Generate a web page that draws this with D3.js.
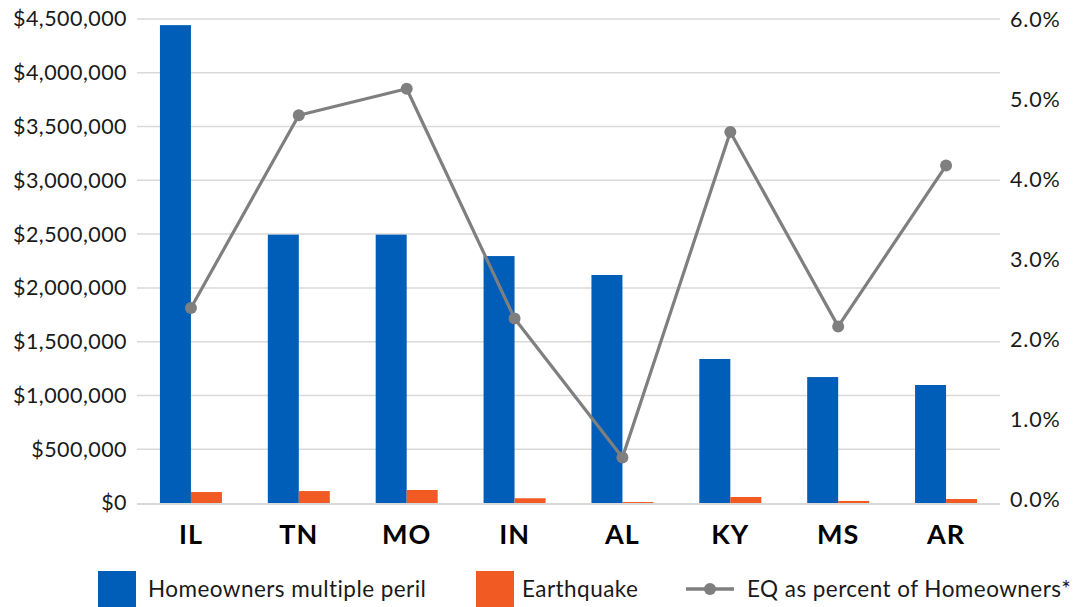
<!DOCTYPE html>
<html>
<head>
<meta charset="utf-8">
<script src="https://cdn.jsdelivr.net/npm/d3@7"></script>
<style>
  html, body { margin: 0; padding: 0; background: #fff; }
  svg { display: block; font-family: Lato, "Open Sans", sans-serif; }
</style>
</head>
<body>
<svg id="chart" width="1085" height="607"></svg>
<script>
// ---- data ----
const categories = ["IL", "TN", "MO", "IN", "AL", "KY", "MS", "AR"];
const homeowners = [4443000, 2495000, 2495000, 2296000, 2120000, 1339000, 1171000, 1097000];
const earthquake = [102000, 111000, 121000, 44000, 9000, 56000, 19000, 37000];
const eqPercent = [2.40, 4.81, 5.14, 2.27, 0.53, 4.60, 2.17, 4.18];
const leftTicks = [0, 500000, 1000000, 1500000, 2000000, 2500000, 3000000, 3500000, 4000000, 4500000];
const rightTicks = [0, 1, 2, 3, 4, 5, 6];
const seriesNames = ["Homeowners multiple peril", "Earthquake", "EQ as percent of Homeowners*"];

(function () {
// ---- layout ----
const svg = d3.select("#chart");
const mLeft = 137, mRight = 1000, mTop = 19, mBottom = 503;
const blue = "#005eb8", orange = "#f15a22", grey = "#7f7f7f", gridC = "#d9d9d9";

const x = d3.scaleBand().domain(categories).range([mLeft, mRight]).paddingInner(0).paddingOuter(0);
const x1 = d3.scaleBand().domain(["h", "e"]).range([0, x.bandwidth()]).paddingInner(0).paddingOuter(0.74);
const y = d3.scaleLinear().domain([0, 4500000]).range([mBottom, mTop]);
const y2 = d3.scaleLinear().domain([0, 6]).range([mBottom - 3, mTop + 1]);

// gridlines
svg.append("g").selectAll("line").data(leftTicks).join("line")
  .attr("x1", mLeft).attr("x2", mRight)
  .attr("y1", d => d === 0 ? y(d) + 1 : y(d)).attr("y2", d => d === 0 ? y(d) + 1 : y(d))
  .attr("stroke", gridC).attr("stroke-width", d => d === 0 ? 2 : 1.5);

// left axis
const fmt = d3.format("$,");
const yAxis = d3.axisLeft(y).tickValues(leftTicks).tickSize(0).tickPadding(10).tickFormat(d => fmt(d));
const ga = svg.append("g").attr("transform", `translate(${mLeft},0)`).call(yAxis);
ga.select(".domain").remove();
ga.selectAll("text").attr("font-size", 21.5).attr("letter-spacing", 0.45).attr("fill", "#1a1a1a").attr("font-family", "Lato, sans-serif");

// right axis
const y2Axis = d3.axisRight(y2).tickValues(rightTicks).tickSize(0).tickPadding(10).tickFormat(d => d.toFixed(1) + "%");
const gr = svg.append("g").attr("transform", `translate(${mRight},0)`).call(y2Axis);
gr.select(".domain").remove();
gr.selectAll("text").attr("font-size", 21.5).attr("letter-spacing", 0.8).attr("fill", "#1a1a1a").attr("font-family", "Lato, sans-serif");

// bars
const g = svg.append("g");
g.selectAll("rect.h").data(categories).join("rect").attr("class", "h")
  .attr("x", (d) => x(d) + x1("h"))
  .attr("width", x1.bandwidth())
  .attr("y", (d, i) => y(homeowners[i]))
  .attr("height", (d, i) => y(0) - y(homeowners[i]))
  .attr("fill", blue);
g.selectAll("rect.e").data(categories).join("rect").attr("class", "e")
  .attr("x", (d) => x(d) + x1("e"))
  .attr("width", x1.bandwidth())
  .attr("y", (d, i) => y(earthquake[i]))
  .attr("height", (d, i) => y(0) - y(earthquake[i]))
  .attr("fill", orange);

// line
const cx = d => x(d) + x.bandwidth() / 2;
const line = d3.line().x((d, i) => cx(categories[i])).y(d => y2(d));
svg.append("path").datum(eqPercent).attr("d", line)
  .attr("fill", "none").attr("stroke", grey).attr("stroke-width", 3.2).attr("stroke-linejoin", "round");
svg.append("g").selectAll("circle").data(eqPercent).join("circle")
  .attr("cx", (d, i) => cx(categories[i])).attr("cy", d => y2(d)).attr("r", 6).attr("fill", grey);

// category labels
const xAxis = d3.axisBottom(x).tickSize(0).tickPadding(22);
const gx = svg.append("g").attr("transform", `translate(0,${mBottom})`).call(xAxis);
gx.select(".domain").remove();
gx.selectAll("text").attr("font-size", 27).attr("font-weight", "bold").attr("letter-spacing", 1)
  .attr("fill", "#000").attr("font-family", "Lato, sans-serif");

// legend
const lg = svg.append("g").attr("font-size", 22.5).attr("letter-spacing", 0.45).attr("fill", "#1a1a1a");
lg.append("rect").attr("x", 98).attr("y", 571).attr("width", 38).attr("height", 36).attr("fill", blue);
lg.append("text").attr("x", 148).attr("y", 597).text(seriesNames[0]);
lg.append("rect").attr("x", 476).attr("y", 571).attr("width", 38).attr("height", 36).attr("fill", orange);
lg.append("text").attr("x", 522).attr("y", 597).text(seriesNames[1]);
lg.append("line").attr("x1", 686).attr("x2", 734).attr("y1", 589).attr("y2", 589).attr("stroke", grey).attr("stroke-width", 3.5);
lg.append("circle").attr("cx", 710).attr("cy", 589).attr("r", 6).attr("fill", grey);
lg.append("text").attr("x", 747).attr("y", 597).text(seriesNames[2]);
})();
</script>
</body>
</html>
